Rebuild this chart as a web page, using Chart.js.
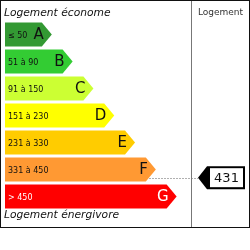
<!DOCTYPE html>
<html lang="fr">
<head>
    <meta charset="UTF-8">
    <title>Diagnostic de performance énergétique</title>
    <script src="https://cdn.jsdelivr.net/npm/chart.js"></script>
    <style>
        body { margin: 0; background: #fff; }
        canvas { display: block; }
    </style>
</head>
<body>
    <canvas id="dpeChart" width="250" height="250"></canvas>

    <script>
        // classes énergétiques et leurs plages
        const classes = ['A', 'B', 'C', 'D', 'E', 'F', 'G'];
        const ranges = ['≤ 50', '51 à 90', '91 à 150', '151 à 230', '231 à 330', '331 à 450', '> 450'];
        const lowerBounds = [0, 51, 91, 151, 231, 331, 451];
        const upperBounds = [50, 90, 150, 230, 330, 450, 600];
        const barRank = [1, 2, 3, 4, 5, 6, 7]; // longueur des flèches
        const classColors = ['#339933', '#33cc33', '#ccff33', '#ffff00', '#ffcc00', '#ff9933', '#ff0000'];
        const textColors = ['#111', '#111', '#111', '#111', '#111', '#111', '#fff'];
        const logementValue = 431;

        const FONT = '"DejaVu Sans", sans-serif';

        const dpePlugin = {
            id: 'dpe',
            beforeDatasetsDraw(chart) {
                const ctx = chart.ctx;
                const meta = chart.getDatasetMeta(0);
                const m = markerPos(meta);
                // ligne pointillée vers le marqueur
                ctx.save();
                ctx.strokeStyle = '#b0b0b0';
                ctx.lineWidth = 1;
                ctx.setLineDash([2, 1]);
                ctx.beginPath();
                ctx.moveTo(chart.chartArea.left, Math.round(m.y) + 0.5);
                ctx.lineTo(198, Math.round(m.y) + 0.5);
                ctx.stroke();
                ctx.restore();
            },
            afterDatasetsDraw(chart) {
                const ctx = chart.ctx;
                const meta = chart.getDatasetMeta(0);
                const xs = chart.scales.x;
                const left = xs.getPixelForValue(xs.min);
                ctx.save();
                meta.data.forEach((bar, i) => {
                    const h = bar.height;
                    const top = bar.y - h / 2;
                    const tip = bar.x;
                    const depth = 10;
                    ctx.fillStyle = classColors[i];
                    ctx.beginPath();
                    ctx.moveTo(left, top);
                    ctx.lineTo(tip - depth, top);
                    ctx.lineTo(tip, bar.y);
                    ctx.lineTo(tip - depth, top + h);
                    ctx.lineTo(left, top + h);
                    ctx.closePath();
                    ctx.fill();

                    ctx.fillStyle = textColors[i];
                    ctx.textBaseline = 'middle';
                    ctx.textAlign = 'left';
                    ctx.font = '8px ' + FONT;
                    ctx.fillText(ranges[i], left + 3, bar.y + 1);
                    ctx.textAlign = 'right';
                    ctx.font = '15px ' + FONT;
                    ctx.fillText(classes[i], tip - 8, bar.y + 1);
                });

                // marqueur de la valeur
                const m = markerPos(meta);
                const y = m.y;
                ctx.fillStyle = '#000';
                ctx.beginPath();
                ctx.moveTo(198, y);
                ctx.lineTo(207, y - 11.5);
                ctx.lineTo(245, y - 11.5);
                ctx.lineTo(245, y + 11.5);
                ctx.lineTo(207, y + 11.5);
                ctx.closePath();
                ctx.fill();
                ctx.fillStyle = '#fff';
                ctx.fillRect(210, y - 9.5, 33, 19);
                ctx.fillStyle = '#111';
                ctx.textAlign = 'center';
                ctx.textBaseline = 'middle';
                ctx.font = '13px ' + FONT;
                ctx.fillText(String(logementValue), 226.5, y + 1);

                // textes
                ctx.textAlign = 'left';
                ctx.textBaseline = 'alphabetic';
                ctx.font = 'italic 10.7px ' + FONT;
                ctx.fillText('Logement économe', 4, 16);
                ctx.fillText('Logement énergivore', 4, 218);
                ctx.fillStyle = '#333';
                ctx.textAlign = 'center';
                ctx.font = '9px ' + FONT;
                ctx.fillText('Logement', 220.5, 15);

                // cadre et séparateur
                ctx.strokeStyle = '#777';
                ctx.lineWidth = 1;
                ctx.beginPath();
                ctx.moveTo(191.5, 0);
                ctx.lineTo(191.5, 227);
                ctx.stroke();
                ctx.strokeStyle = '#111';
                ctx.strokeRect(0.5, 0.5, 249, 227);
                ctx.restore();
            }
        };

        function markerPos(meta) {
            let idx = upperBounds.findIndex(u => logementValue <= u);
            if (idx < 0) idx = classes.length - 1;
            const bar = meta.data[idx];
            const frac = (logementValue - lowerBounds[idx]) / (upperBounds[idx] - lowerBounds[idx]);
            return { y: bar.y - bar.height / 2 + frac * bar.height };
        }

        const ctx = document.getElementById('dpeChart').getContext('2d');
        new Chart(ctx, {
            type: 'bar',
            data: {
                labels: classes,
                datasets: [{
                    data: barRank,
                    backgroundColor: 'rgba(0,0,0,0)',
                    borderWidth: 0,
                    categoryPercentage: 1,
                    barPercentage: 0.89
                }]
            },
            options: {
                indexAxis: 'y',
                responsive: false,
                animation: false,
                layout: { padding: { left: 5, right: 59, top: 21, bottom: 40 } },
                plugins: {
                    legend: { display: false },
                    tooltip: { enabled: false }
                },
                scales: {
                    x: { display: false, min: -1.25, max: 7.69 },
                    y: { display: false }
                }
            },
            plugins: [dpePlugin]
        });
    </script>
</body>
</html>
